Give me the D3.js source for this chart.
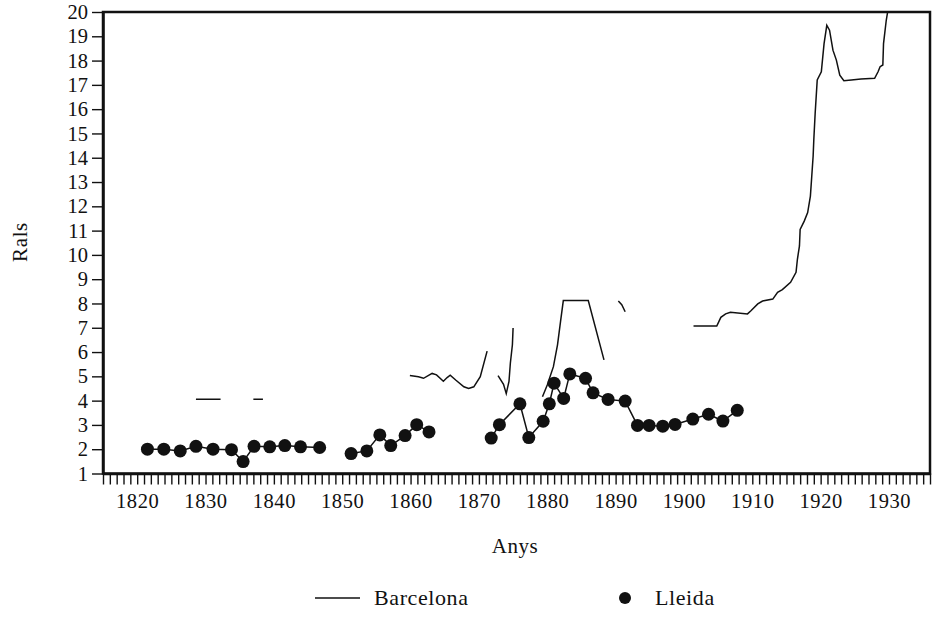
<!DOCTYPE html>
<html>
<head>
<meta charset="utf-8">
<script src="https://cdn.jsdelivr.net/npm/d3@7"></script>
<style>
  body { margin: 0; background: #fff; }
  svg text { font-family: "Liberation Serif", "DejaVu Serif", serif; fill: #111; }
</style>
</head>
<body>
<svg></svg>
<script>
// Lleida (dots), year and price in rals
const lleidaYears = [1821.5, 1823.9, 1826.3, 1828.6, 1831.1, 1833.8, 1835.5, 1837.1, 1839.4, 1841.6,
    1843.9, 1846.7, 1851.3, 1853.6, 1855.5, 1857.1, 1859.2, 1860.9, 1862.7, 1871.8,
    1873.0, 1876.0, 1877.3, 1879.4, 1880.3, 1881.0, 1882.4, 1883.3, 1885.6, 1886.7,
    1888.9, 1891.4, 1893.2, 1894.9, 1896.9, 1898.7, 1901.3, 1903.6, 1905.7, 1907.8];
const lleidaValues = [2.0, 2.0, 1.93, 2.12, 2.0, 1.98, 1.49, 2.12, 2.1, 2.15,
    2.1, 2.07, 1.82, 1.93, 2.59, 2.15, 2.56, 3.01, 2.71, 2.46,
    3.01, 3.87, 2.48, 3.15, 3.87, 4.72, 4.09, 5.1, 4.92, 4.32,
    4.05, 3.98, 2.98, 2.98, 2.95, 3.02, 3.24, 3.44, 3.16, 3.6];

// Barcelona (line), null marks a break in the series
const barcelonaYears = [1828.6, 1832.2, null,
    1837.0, 1838.4, null,
    1859.9, 1861.15, 1861.9, 1863.15, 1863.8, 1864.8, 1865.35, 1865.8, 1866.6, 1867.8, 1868.5, 1869.25, 1870.2, 1871.2, null,
    1872.8, 1873.6, 1874.0, 1874.4, 1874.6, 1874.9, 1875.0, null,
    1879.3, 1880.0, 1880.9, 1881.5, 1881.95, 1882.35, 1886.0, 1888.3, null,
    1890.4, 1890.9, 1891.4, null,
    1901.4, 1904.8, 1905.4, 1906.1, 1906.8, 1909.3, 1909.8, 1910.8, 1911.5, 1913.0,
    1913.7, 1914.4, 1915.6, 1916.4, 1916.6, 1916.9, 1917.0, 1917.6, 1918.1, 1918.5,
    1918.7, 1918.9, 1919.0, 1919.2, 1919.5, 1920.1, 1920.5, 1920.9, 1921.3, 1921.8,
    1922.3, 1922.8, 1923.4, 1924.5, 1925.9, 1927.9, 1928.4, 1928.7, 1929.1, 1929.2,
    1929.6, 1929.8];
const barcelonaValues = [4.06, 4.06, null,
    4.06, 4.06, null,
    5.03, 4.98, 4.92, 5.12, 5.06, 4.8, 4.95, 5.05, 4.85, 4.57, 4.5, 4.57, 4.99, 6.04, null,
    5.03, 4.67, 4.29, 4.79, 5.54, 6.3, 6.99, null,
    4.16, 4.64, 5.4, 6.3, 7.27, 8.12, 8.12, 5.68, null,
    8.1, 7.95, 7.66, null,
    7.07, 7.07, 7.43, 7.57, 7.64, 7.57, 7.7, 7.98, 8.1, 8.18,
    8.46, 8.57, 8.87, 9.28, 9.82, 10.37, 11.05, 11.39, 11.74, 12.42,
    13.24, 14.06, 14.74, 15.84, 17.2, 17.54, 18.7, 19.45, 19.25, 18.43,
    18.02, 17.4, 17.17, 17.2, 17.24, 17.27, 17.54, 17.75, 17.82, 18.7,
    19.66, 20.0];

const yearTicks = d3.range(1815, 1937);
const valueTicks = d3.range(1, 21);

const width = 932, height = 617;
const svg = d3.select("svg").attr("width", width).attr("height", height);

const x = d3.scaleLinear().domain([1815, 1936]).range([103, 930]);
const y = d3.scaleLinear().domain([1, 20]).range([473.5, 12]);

// frame
svg.append("rect")
    .attr("x", 103).attr("y", 12)
    .attr("width", 930 - 103).attr("height", 473.5 - 12)
    .attr("fill", "none").attr("stroke", "#111").attr("stroke-width", 2.5);

const xAxis = svg.append("g")
    .attr("transform", "translate(0,473.5)")
    .call(d3.axisBottom(x)
        .tickValues(yearTicks)
        .tickSize(11)
        .tickSizeOuter(0)
        .tickPadding(9)
        .tickFormat(d => d % 10 === 0 && d >= 1820 && d <= 1930 ? d : ""));

const yAxis = svg.append("g")
    .attr("transform", "translate(103,0)")
    .call(d3.axisLeft(y)
        .tickValues(valueTicks)
        .tickSize(11)
        .tickSizeOuter(0)
        .tickPadding(4)
        .tickFormat(d => d));

[xAxis, yAxis].forEach(g => {
    g.attr("font-family", null);
    g.select(".domain").attr("stroke", "#111").attr("stroke-width", 2.5);
    g.selectAll(".tick line").attr("stroke", "#111").attr("stroke-width", 1.4);
    g.selectAll(".tick text")
        .style("font-size", "20.5px")
        .style("font-family", "'Liberation Serif', 'DejaVu Serif', serif")
        .attr("fill", "#111");
});
xAxis.selectAll(".tick text").style("letter-spacing", "0.6px");

// Barcelona line
const barcelona = barcelonaYears.map((yr, i) => ({ yr, v: barcelonaValues[i] }));
const line = d3.line()
    .defined(d => d.yr != null && d.v != null)
    .x(d => x(d.yr))
    .y(d => y(d.v));

svg.append("path")
    .datum(barcelona)
    .attr("d", line)
    .attr("fill", "none")
    .attr("stroke", "#111")
    .attr("stroke-width", 1.5);

// Lleida: connect points, break on gaps of more than 4 years
const lleida = lleidaYears.map((yr, i) => ({ yr, v: lleidaValues[i] }));
const lleidaSegments = [];
lleida.forEach((d, i) => {
    if (i === 0 || d.yr - lleida[i - 1].yr > 4) lleidaSegments.push([]);
    lleidaSegments[lleidaSegments.length - 1].push(d);
});

svg.selectAll(".lleida-line")
    .data(lleidaSegments)
    .enter()
    .append("path")
    .attr("class", "lleida-line")
    .attr("d", d3.line().x(d => x(d.yr)).y(d => y(d.v)))
    .attr("fill", "none")
    .attr("stroke", "#111")
    .attr("stroke-width", 1.5);

svg.selectAll(".dot")
    .data(lleida)
    .enter()
    .append("circle")
    .attr("class", "dot")
    .attr("cx", d => x(d.yr))
    .attr("cy", d => y(d.v))
    .attr("r", 6.5)
    .attr("fill", "#111");

// axis titles
svg.append("text")
    .attr("x", 515)
    .attr("y", 553)
    .style("text-anchor", "middle")
    .style("font-size", "21px")
    .style("letter-spacing", "0.6px")
    .text("Anys");

svg.append("text")
    .attr("transform", "translate(27,242) rotate(-90)")
    .style("text-anchor", "middle")
    .style("font-size", "21px")
    .style("letter-spacing", "0.6px")
    .text("Rals");

// legend
const legend = svg.append("g").attr("class", "legend");
legend.append("line")
    .attr("x1", 315).attr("x2", 360)
    .attr("y1", 598).attr("y2", 598)
    .attr("stroke", "#111").attr("stroke-width", 1.3);
legend.append("text")
    .attr("x", 374).attr("y", 605)
    .style("font-size", "22px")
    .style("letter-spacing", "0.6px")
    .text("Barcelona");
legend.append("circle")
    .attr("cx", 625).attr("cy", 598).attr("r", 6)
    .attr("fill", "#111");
legend.append("text")
    .attr("x", 655).attr("y", 605)
    .style("font-size", "22px")
    .style("letter-spacing", "0.6px")
    .text("Lleida");
</script>
</body>
</html>
